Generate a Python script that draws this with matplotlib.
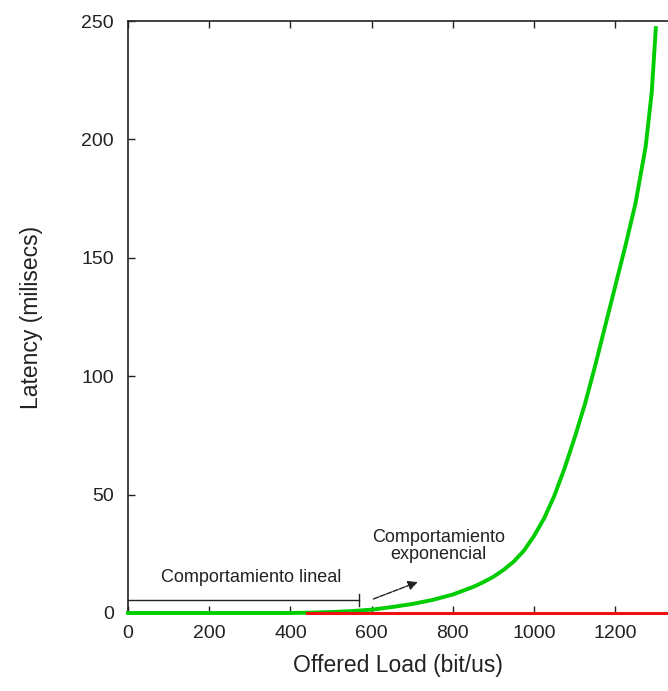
import matplotlib.pyplot as plt

plt.rcParams['font.family'] = ['Liberation Sans', 'DejaVu Sans']

# offered load (bit/us) vs latency (ms)
load = [0, 200, 400, 440, 500, 550, 600, 650, 700, 750, 800, 850, 875, 900,
        925, 950, 975, 1000, 1025, 1050, 1075, 1100, 1125, 1150, 1175, 1200,
        1225, 1250, 1275, 1290, 1300]
latency = [0, 0, 0, 0.1, 0.4, 0.8, 1.4, 2.5, 3.8, 5.5, 7.8, 11, 13, 15.3,
           18.2, 21.7, 26.3, 32.5, 40, 49.5, 61, 74, 88, 104, 121, 138,
           155, 173, 197, 220, 247]

red_x = [440, 1330]
red_y = [0, 0]

xticks = [0, 200, 400, 600, 800, 1000, 1200]
yticks = [0, 50, 100, 150, 200, 250]

fig = plt.figure(figsize=(6.68, 6.91), dpi=100)
ax = fig.add_axes([0.1916, 0.1129, 0.8084, 0.8567])

ax.plot(load, latency, color='#00cc00', lw=2.8, zorder=3, clip_on=False,
        solid_joinstyle='round')
ax.plot(red_x, red_y, color='#ee1111', lw=2.2, zorder=4, clip_on=False)

ax.set_xlim(0, 1330)
ax.set_ylim(0, 250)
ax.set_xticks(xticks)
ax.set_yticks(yticks)
ax.tick_params(direction='in', top=True, right=False, length=5, width=1,
               labelsize=14, colors='#222222')
ax.tick_params(axis='x', pad=9)
ax.tick_params(axis='y', pad=10)
ax.spines['right'].set_visible(False)
for s in ['left', 'top', 'bottom']:
    ax.spines[s].set_linewidth(1.2)
    ax.spines[s].set_color('#222222')

ax.set_xlabel('Offered Load (bit/us)', fontsize=16.5, color='#222222', labelpad=8)
ax.set_ylabel('Latency (milisecs)', fontsize=16.5, color='#222222', labelpad=28)

# bracket for linear region
ax.plot([0, 570], [5.5, 5.5], color='#222222', lw=1, zorder=2)
ax.plot([570, 570], [3, 8], color='#222222', lw=1, zorder=2)
ax.text(304, 14.8, 'Comportamiento lineal', fontsize=13, ha='center', va='center',
        color='#222222')

ax.text(765, 28.3, 'Comportamiento\nexponencial', fontsize=13, ha='center',
        va='center', color='#222222', linespacing=1.05)
ax.annotate('', xy=(720, 13.5), xytext=(598, 5.5),
            arrowprops=dict(arrowstyle='-|>', color='#222222', lw=1,
                            mutation_scale=14, linestyle=(0, (4, 1))))

fig.savefig('out.png', dpi=100)
